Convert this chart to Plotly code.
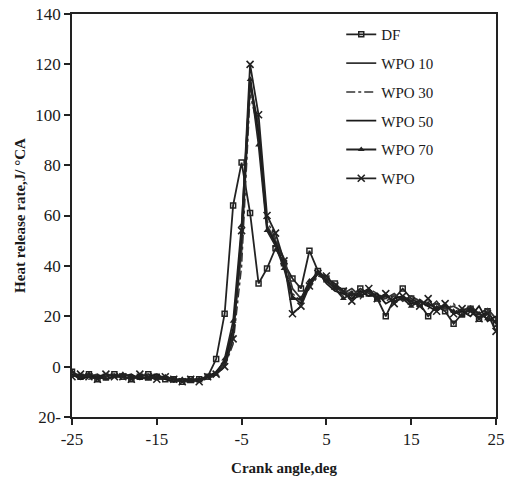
import plotly.graph_objects as go

crank_angle = list(range(-25, 26))

DF = [-2,-4,-3,-5,-4,-3,-4,-5,-4,-3,-4,-5,-5,-6,-5,-5,-4,
      3,21,64,81,61,33,39,47,41,35,31,46,38,
      35,33,30,28,31,29,27,20,27,31,27,25,20,24,22,17,21,23,19,22,17]
WPO10 = [-3,-4,-4,-3,-5,-4,-3,-4,-5,-4,-4,-5,-6,-5,-6,-5,-5,
         -3,1,13,46,112,96,56,50,43,31,27,32,37,
         34,32,29,31,28,30,28,27,29,26,28,26,24,25,23,24,22,24,21,23,19]
WPO30 = [-4,-3,-5,-4,-4,-3,-5,-4,-4,-3,-5,-5,-5,-6,-6,-5,-4,
         -3,0,9,40,108,94,58,51,41,29,26,31,36,
         35,31,28,30,27,31,29,26,28,27,26,27,23,26,22,25,21,23,20,22,16]
WPO50 = [-3,-5,-4,-4,-3,-4,-4,-3,-5,-4,-3,-5,-6,-5,-5,-6,-4,
         -2,2,15,52,115,92,55,49,40,28,25,33,38,
         33,30,29,27,30,28,29,25,27,28,25,26,24,22,25,21,22,20,24,18,20]
WPO70 = [-2,-4,-3,-4,-5,-4,-3,-4,-4,-5,-4,-4,-5,-5,-6,-5,-4,
         -3,3,18,56,114,88,54,48,39,27,27,34,37,
         34,31,27,29,28,30,27,28,26,27,24,26,25,23,24,22,20,23,21,19,18]
WPO = [-4,-3,-4,-5,-3,-4,-4,-5,-3,-4,-5,-4,-5,-6,-5,-6,-4,
       -3,0,11,54,120,100,60,53,42,21,24,32,37,
       36,32,30,26,29,31,27,29,25,28,26,24,27,22,25,21,23,22,19,21,14]

series_names = ["DF", "WPO 10", "WPO 30", "WPO 50", "WPO 70", "WPO"]
series_values = [DF, WPO10, WPO30, WPO50, WPO70, WPO]

x_tickvals = [-25, -15, -5, 5, 15, 25]
x_ticktext = ["-25", "-15", "-5", "5", "15", "25"]
y_tickvals = [-20, 0, 20, 40, 60, 80, 100, 120, 140]
y_ticktext = ["20-", "0", "20", "40", "60", "80", "100", "120", "140"]

styles = [
    dict(mode="lines+markers", line=dict(color="#222", width=1.8),
         marker=dict(symbol="square-open", size=5, color="#222", line=dict(width=1.5))),
    dict(mode="lines", line=dict(color="#333", width=1.8)),
    dict(mode="lines", line=dict(color="#333", width=1.5, dash="dashdot")),
    dict(mode="lines", line=dict(color="#1a1a1a", width=1.8)),
    dict(mode="lines+markers", line=dict(color="#222", width=1.8),
         marker=dict(symbol="triangle-up", size=6, color="#222")),
    dict(mode="lines+markers", line=dict(color="#222", width=1.8),
         marker=dict(symbol="x-thin-open", size=7, color="#222", line=dict(width=1.6, color="#222"))),
]

FONT = "Liberation Serif"
fig = go.Figure()
for name, vals, st in zip(series_names, series_values, styles):
    fig.add_trace(go.Scatter(x=crank_angle, y=vals, name=name, legendgroup=name, **st))

fig.update_layout(
    width=505, height=490,
    margin=dict(l=72, r=9, t=14, b=73, autoexpand=False),
    paper_bgcolor="white", plot_bgcolor="white",
    font=dict(family=FONT, size=17, color="#1a1a1a"),
    showlegend=True,
    legend=dict(x=0.635, y=0.99, xanchor="left", yanchor="top",
                font=dict(family=FONT, size=15, color="#1a1a1a"),
                tracegroupgap=6.3, bgcolor="rgba(0,0,0,0)"),
)
fig.update_xaxes(
    range=[-25, 25], tickvals=x_tickvals, ticktext=x_ticktext, automargin=False,
    ticklabeloverflow="allow",
    ticks="outside", ticklen=6, tickwidth=1.5, tickcolor="#222",
    showline=True, linecolor="#222", linewidth=1.5, mirror=True,
    showgrid=False, zeroline=False,
    title=dict(text="<b>Crank angle,deg</b>", font=dict(family=FONT, size=15), standoff=14),
)
fig.update_yaxes(
    range=[-20, 140], tickvals=y_tickvals, ticktext=y_ticktext, automargin=False,
    ticklabeloverflow="allow",
    ticks="outside", ticklen=6, tickwidth=1.5, tickcolor="#222",
    showline=True, linecolor="#222", linewidth=1.5, mirror=True,
    showgrid=False, zeroline=False,
    title=dict(text="<b>Heat release rate,J/ °CA</b>", font=dict(family=FONT, size=15), standoff=6),
)

fig.write_html("out.html")
